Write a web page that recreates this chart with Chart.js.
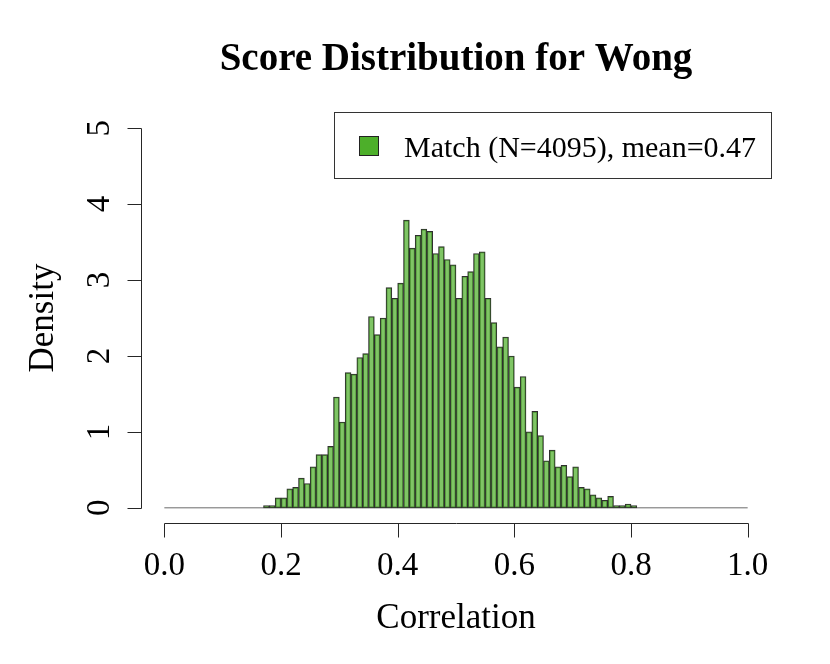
<!DOCTYPE html>
<html>
<head>
<meta charset="utf-8">
<script src="https://cdn.jsdelivr.net/npm/chart.js@4/dist/chart.umd.min.js"></script>
<style>
  html, body { margin: 0; padding: 0; background: #fff; }
  #wrap { width: 830px; height: 664px; }
</style>
</head>
<body>
<div id="wrap"><canvas id="hist" width="830" height="664"></canvas></div>
<script>
// ─── Data ─────────────────────────────────────────────────────────────────────

const binWidth = 0.01;
const binStarts = [
  0.17, 0.18, 0.19, 0.20, 0.21, 0.22, 0.23, 0.24, 0.25, 0.26,
  0.27, 0.28, 0.29, 0.30, 0.31, 0.32, 0.33, 0.34, 0.35, 0.36,
  0.37, 0.38, 0.39, 0.40, 0.41, 0.42, 0.43, 0.44, 0.45, 0.46,
  0.47, 0.48, 0.49, 0.50, 0.51, 0.52, 0.53, 0.54, 0.55, 0.56,
  0.57, 0.58, 0.59, 0.60, 0.61, 0.62, 0.63, 0.64, 0.65, 0.66,
  0.67, 0.68, 0.69, 0.70, 0.71, 0.72, 0.73, 0.74, 0.75, 0.76,
  0.77, 0.78, 0.79, 0.80,
];
const density = [
  0.03, 0.03, 0.13, 0.13, 0.25, 0.27, 0.39, 0.32, 0.54, 0.70,
  0.70, 0.81, 1.46, 1.13, 1.78, 1.76, 1.98, 2.03, 2.52, 2.28,
  2.50, 2.90, 2.76, 2.96, 3.79, 3.42, 3.59, 3.67, 3.64, 3.35,
  3.44, 3.27, 3.20, 2.76, 3.05, 3.11, 3.35, 3.37, 2.76, 2.44,
  2.12, 2.25, 2.00, 1.59, 1.73, 1.00, 1.27, 0.95, 0.62, 0.76,
  0.54, 0.56, 0.41, 0.54, 0.27, 0.25, 0.17, 0.13, 0.10, 0.15,
  0.03, 0.03, 0.05, 0.03,
];
const histRange = [0, 1];          // breaks span (empty bins drawn flat)
const xTicks = [0, 0.2, 0.4, 0.6, 0.8, 1.0];
const yTicks = [0, 1, 2, 3, 4, 5];

const titleText = "Score Distribution for Wong";
const xTitle = "Correlation";
const yTitle = "Density";
const seriesLabel = "Match (N=4095), mean=0.47";

const GREEN = "#4DAF2A";
const BAR_FILL = "rgba(77,175,42,0.72)";
const BAR_EDGE = "#2f2f2f";
const SERIF = '"Liberation Serif", "DejaVu Serif", serif';

// ─── R-style axes, titles and legend ──────────────────────────────────────────

const rDecorations = {
  id: "rDecorations",
  afterDraw(chart) {
    const { ctx, chartArea, scales } = chart;
    const xs = scales.x, ys = scales.y;
    const tick = 14;
    ctx.save();
    ctx.strokeStyle = "#262626";
    ctx.fillStyle = "#000";
    ctx.lineWidth = 1;

    // x axis
    const axY = Math.round(chartArea.bottom) + 0.5;
    ctx.beginPath();
    ctx.moveTo(Math.round(xs.getPixelForValue(xTicks[0])) + 0.5, axY);
    ctx.lineTo(Math.round(xs.getPixelForValue(xTicks[xTicks.length - 1])) + 0.5, axY);
    xTicks.forEach((v) => {
      const px = Math.round(xs.getPixelForValue(v)) + 0.5;
      ctx.moveTo(px, axY);
      ctx.lineTo(px, axY + tick);
    });
    ctx.stroke();
    ctx.font = `33px ${SERIF}`;
    ctx.textAlign = "center";
    ctx.textBaseline = "alphabetic";
    xTicks.forEach((v) => {
      ctx.fillText(v.toFixed(1), xs.getPixelForValue(v), axY + 51);
    });

    // y axis
    const axX = Math.round(chartArea.left) + 0.5;
    ctx.beginPath();
    ctx.moveTo(axX, Math.round(ys.getPixelForValue(yTicks[0])) + 0.5);
    ctx.lineTo(axX, Math.round(ys.getPixelForValue(yTicks[yTicks.length - 1])) + 0.5);
    yTicks.forEach((v) => {
      const py = Math.round(ys.getPixelForValue(v)) + 0.5;
      ctx.moveTo(axX, py);
      ctx.lineTo(axX - tick, py);
    });
    ctx.stroke();
    yTicks.forEach((v) => {
      ctx.save();
      ctx.translate(axX - 33, ys.getPixelForValue(v));
      ctx.rotate(-Math.PI / 2);
      ctx.textBaseline = "alphabetic";
      ctx.fillText(String(v), 0, 0);
      ctx.restore();
    });

    // axis titles
    const xMid = (xs.getPixelForValue(xTicks[0]) + xs.getPixelForValue(xTicks[xTicks.length - 1])) / 2;
    const yMid = (ys.getPixelForValue(yTicks[0]) + ys.getPixelForValue(yTicks[yTicks.length - 1])) / 2;
    ctx.font = `35px ${SERIF}`;
    ctx.fillText(xTitle, xMid, 628);
    ctx.save();
    ctx.translate(53, yMid);
    ctx.rotate(-Math.PI / 2);
    ctx.fillText(yTitle, 0, 0);
    ctx.restore();

    // main title
    ctx.font = `bold 39px ${SERIF}`;
    ctx.fillText(titleText, xMid, 70);

    // legend box
    ctx.strokeStyle = "#333";
    ctx.strokeRect(334.5, 112.5, 437, 66);
    ctx.fillStyle = GREEN;
    ctx.fillRect(359.5, 136.5, 19, 19);
    ctx.strokeStyle = "#222";
    ctx.strokeRect(359.5, 136.5, 19, 19);
    ctx.fillStyle = "#000";
    ctx.font = `30px ${SERIF}`;
    ctx.textAlign = "left";
    ctx.fillText(seriesLabel, 404, 157);

    ctx.restore();
  },
};

// ─── Histogram ────────────────────────────────────────────────────────────────

const barPoints = binStarts.map((b, i) => ({ x: b + binWidth / 2, y: density[i] }));

new Chart(document.getElementById("hist"), {
  type: "bar",
  data: {
    datasets: [
      {
        label: seriesLabel,
        data: barPoints,
        backgroundColor: BAR_FILL,
        borderColor: BAR_EDGE,
        borderWidth: 1,
        borderSkipped: false,
        barPercentage: 1,
        categoryPercentage: 1,
        order: 1,
      },
      {
        type: "line",
        label: "empty bins",
        data: histRange.map((v) => ({ x: v, y: 0 })),
        borderColor: "#6b6b6b",
        borderWidth: 1,
        pointRadius: 0,
        order: 2,
      },
    ],
  },
  options: {
    responsive: false,
    animation: false,
    devicePixelRatio: 1,
    layout: { padding: { left: 141, right: 59, top: 113, bottom: 141 } },
    plugins: {
      legend: { display: false },
      tooltip: { enabled: false },
      title: { display: false },
    },
    scales: {
      x: { type: "linear", min: -0.04, max: 1.04, display: false, offset: false },
      y: { min: -0.2, max: 5.2, display: false },
    },
  },
  plugins: [rDecorations],
});
</script>
</body>
</html>
